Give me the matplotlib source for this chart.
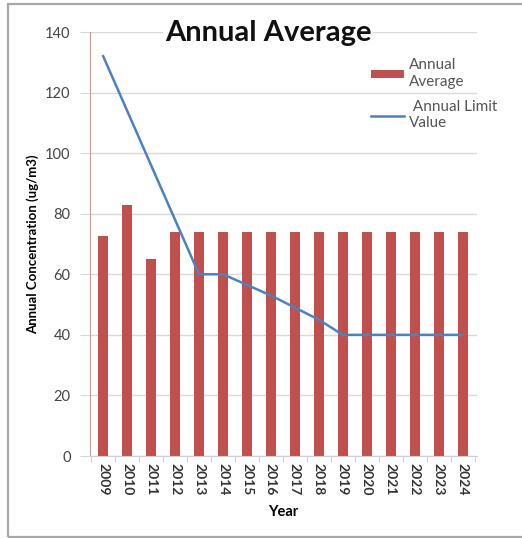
import matplotlib
matplotlib.use("Agg")
import matplotlib.pyplot as plt
import numpy as np
from matplotlib.patches import Rectangle

years = ["2009", "2010", "2011", "2012", "2013", "2014", "2015", "2016",
         "2017", "2018", "2019", "2020", "2021", "2022", "2023", "2024"]
annual_average = [72.5, 83, 65, 74, 74, 74, 74, 74, 74, 74, 74, 74, 74, 74, 74, 74]
limit_value = [132, 114, 96, 78, 60, 60, 56.5, 53, 49, 45, 40, 40, 40, 40, 40, 40]

plt.rcParams['font.family'] = ['Lato', 'DejaVu Sans']

W, H = 522, 538
fig = plt.figure(figsize=(W / 100, H / 100), dpi=100)
fig.patch.set_facecolor("white")

# outer frame (right edge lies outside the image)
fig.add_artist(Rectangle((8 / W, 1 - 537 / H), (540 - 8) / W, (537 - 4) / H,
                         transform=fig.transFigure, fill=False,
                         edgecolor="#a8a8a8", linewidth=1.6))

ax = fig.add_axes([90 / W, (H - 456) / H, (477 - 90) / W, (456 - 32) / H])
x = np.arange(len(years))
bars = ax.bar(x, annual_average, width=0.42, color="#C0504D", label="Annual\nAverage", zorder=2)
line, = ax.plot(x, limit_value, color="#4F81BD", linewidth=1.8, label=" Annual Limit\nValue", zorder=3)

ax.set_xlim(-0.55, 15.6)
ax.set_ylim(0, 140)
ax.set_yticks(range(0, 141, 20))
ax.grid(axis="y", color="#d9d9d9", linewidth=1.0, zorder=0)
ax.set_axisbelow(True)

for s in ["top", "right"]:
    ax.spines[s].set_visible(False)
ax.spines["left"].set_color("#c49a9a")
ax.spines["bottom"].set_color("#d0d0d0")

ax.set_xticks(x)
ax.set_xticklabels(years, rotation=-90, fontsize=10, fontweight="bold", color="#333333")
ax.set_xticks(np.arange(-0.5, 15.6, 1), minor=True)
ax.tick_params(axis="x", which="major", length=0, pad=5)
ax.tick_params(axis="x", which="minor", length=4, color="#c8c8c8")
ax.tick_params(axis="y", length=7, color="#d9d9d9", labelsize=10.5, labelcolor="#444444", pad=7)

ax.set_ylabel("Annual Concentration (ug/m3)", fontsize=9.5, fontweight="bold", labelpad=4)
ax.set_xlabel("Year", fontsize=10.5, fontweight="bold", labelpad=7)

fig.text(268 / W, 1 - 33 / H, "Annual Average", ha="center", va="center",
         fontsize=21, fontweight="bold", color="#111111",
         bbox=dict(facecolor="white", edgecolor="none", pad=1))

leg = ax.legend([bars, line], ["Annual\nAverage", " Annual Limit\nValue"],
                loc="upper left", bbox_to_anchor=(0.69, 0.97), frameon=False,
                fontsize=11, handlelength=2.2, handleheight=0.45, labelspacing=0.75,
                handletextpad=0.3, labelcolor="#555555")

fig.savefig("out.png", dpi=100, facecolor="white")
